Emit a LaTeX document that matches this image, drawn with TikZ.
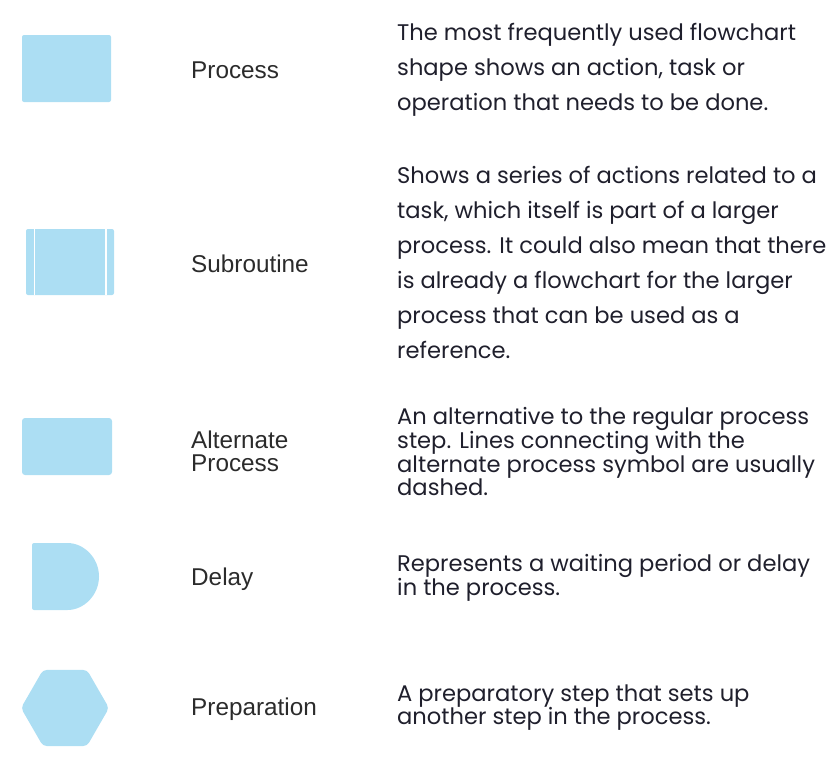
\documentclass[tikz,border=0pt]{standalone}
\usepackage{fontspec}
\setmainfont{Liberation Sans}
\newfontfamily\descfont{Poppins}
\usetikzlibrary{shapes.geometric}
\definecolor{shapeblue}{HTML}{ACDEF3}
\definecolor{labelink}{HTML}{2B2B2B}
\definecolor{descink}{HTML}{1F1F2C}
\tikzset{
  symbolbox/.style={fill=shapeblue,draw=none,inner sep=0pt,rounded corners=2pt},
  namelabel/.style={anchor=west,align=left,text=labelink,inner sep=0pt,
                    font=\fontsize{24.3}{25}\selectfont},
  looseddesc/.style={anchor=west,align=left,text=descink,inner sep=0pt,
                    font=\descfont\fontsize{22.6}{35}\selectfont},
  tightdesc/.style={anchor=west,align=left,text=descink,inner sep=0pt,
                    font=\descfont\fontsize{22.6}{23.3}\selectfont}
}
\begin{document}
\begin{tikzpicture}[x=1pt,y=-1pt]
  \useasboundingbox (0,0) rectangle (828,774);

  % symbols
  \node[symbolbox,minimum width=89pt,minimum height=67pt] (process) at (66.5,68.5) {};
  \node[symbolbox,minimum width=88pt,minimum height=66pt] (subroutine) at (70,262) {};
  \draw[white,line width=1.2pt] ([xshift=8.3pt]subroutine.north west) -- ([xshift=8.3pt]subroutine.south west);
  \draw[white,line width=1.2pt] ([xshift=-8.3pt]subroutine.north east) -- ([xshift=-8.3pt]subroutine.south east);
  \node[symbolbox,rounded corners=3pt,minimum width=90pt,minimum height=57pt] (alternate) at (67,446.5) {};
  \fill[shapeblue,rounded corners=2pt] (32,576.5) -- (32,543) -- (65.5,543)
    arc[start angle=90,end angle=-90,radius=33.5pt] -- (32,610) -- cycle;
  \node[symbolbox,regular polygon,regular polygon sides=6,minimum size=88pt,
        rounded corners=4pt] (preparation) at (65,708) {};

  % names
  \node[namelabel] (processname) at (191,70) {Process};
  \node[namelabel] (subname) at (191,264) {Subroutine};
  \node[namelabel,font=\fontsize{24.3}{23.5}\selectfont] (altname) at (191,451.5) {Alternate\\Process};
  \node[namelabel] (delayname) at (191,579) {Delay};
  \node[namelabel] (prepname) at (191,709) {Preparation};

  % descriptions
  \node[looseddesc] (processtext) at (397,70)
    {The most frequently used flowchart\\shape shows an action, task or\\operation that needs to be done.};
  \node[looseddesc] (subtext) at (397,262.5)
    {Shows a series of actions related to a\\task, which itself is part of a larger\\process. It could also mean that there\\is already a flowchart for the larger\\process that can be used as a\\reference.};
  \node[tightdesc] (alttext) at (397,451.5)
    {An alternative to the regular process\\step. Lines connecting with the\\alternate process symbol are usually\\dashed.};
  \node[tightdesc] (delaytext) at (397,578)
    {Represents a waiting period or delay\\in the process.};
  \node[tightdesc] (preptext) at (397,707.5)
    {A preparatory step that sets up\\another step in the process.};
\end{tikzpicture}
\end{document}
